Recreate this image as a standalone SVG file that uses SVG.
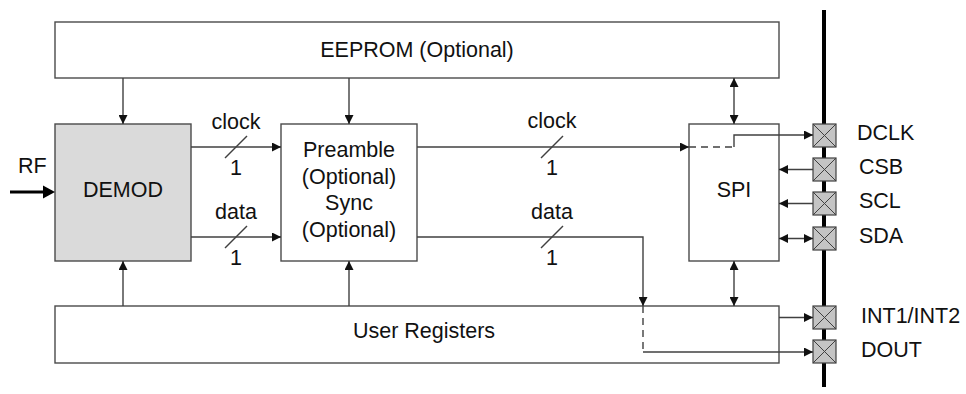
<svg xmlns="http://www.w3.org/2000/svg" width="966" height="394" viewBox="0 0 966 394">
<defs>
<style>
text{font-family:"Liberation Sans",Arial,sans-serif;font-size:21.5px;fill:#111;}
.c{text-anchor:middle;}
.box{fill:#fff;stroke:#4a4a4a;stroke-width:1.4;}
.ln{fill:none;stroke:#404040;stroke-width:1.4;}
.dash{fill:none;stroke:#404040;stroke-width:1.4;stroke-dasharray:7,5;}
.pad{fill:#c4c4c4;stroke:#404040;stroke-width:1.2;}
.px{stroke:#404040;stroke-width:1;}
</style>
<marker id="ah" viewBox="0 0 10 10" refX="10" refY="5" markerUnits="userSpaceOnUse" markerWidth="9" markerHeight="9" orient="auto-start-reverse">
<path d="M0,0 L10,5 L0,10 z" fill="#111"/>
</marker>
</defs>

<g id="eeprom">
<rect class="box" x="55" y="22" width="724" height="56"/>
<text class="c" x="417" y="57">EEPROM (Optional)</text>
</g>
<g id="demod">
<rect class="box" x="55" y="124" width="136" height="137" style="fill:#dadada"/>
<text class="c" x="123" y="197">DEMOD</text>
</g>
<g id="preamble">
<rect class="box" x="281" y="124" width="136" height="137"/>
<text class="c" x="349" y="157">Preamble</text>
<text class="c" x="349" y="184">(Optional)</text>
<text class="c" x="349" y="210">Sync</text>
<text class="c" x="349" y="237">(Optional)</text>
</g>
<g id="spi">
<rect class="box" x="689" y="124" width="90" height="137"/>
<text class="c" x="734" y="197">SPI</text>
</g>
<g id="userregs">
<rect class="box" x="55" y="306" width="724" height="57"/>
<text class="c" x="424" y="338">User Registers</text>
</g>

<g id="bus">
<line x1="824" y1="10" x2="824" y2="387" stroke="#000" stroke-width="4"/>
</g>
<g id="pads">
<g id="pad-dclk"><rect class="pad" x="813" y="124" width="23" height="23"/><path class="px" d="M813,124 L836,147 M836,124 L813,147"/><text x="857" y="140">DCLK</text></g>
<g id="pad-csb"><rect class="pad" x="813" y="158" width="23" height="23"/><path class="px" d="M813,158 L836,181 M836,158 L813,181"/><text x="859" y="174">CSB</text></g>
<g id="pad-scl"><rect class="pad" x="813" y="192" width="23" height="23"/><path class="px" d="M813,192 L836,215 M836,192 L813,215"/><text x="859" y="208">SCL</text></g>
<g id="pad-sda"><rect class="pad" x="813" y="227" width="23" height="23"/><path class="px" d="M813,227 L836,250 M836,227 L813,250"/><text x="859" y="243">SDA</text></g>
<g id="pad-int"><rect class="pad" x="813" y="306" width="23" height="23"/><path class="px" d="M813,306 L836,329 M836,306 L813,329"/><text x="861" y="323">INT1/INT2</text></g>
<g id="pad-dout"><rect class="pad" x="813" y="340" width="23" height="23"/><path class="px" d="M813,340 L836,363 M836,340 L813,363"/><text x="861" y="357">DOUT</text></g>
</g>

<g id="connectors">
<line class="ln" x1="123" y1="78" x2="123" y2="124" marker-end="url(#ah)"/>
<line class="ln" x1="349" y1="78" x2="349" y2="124" marker-end="url(#ah)"/>
<line class="ln" x1="734" y1="78" x2="734" y2="124" marker-start="url(#ah)" marker-end="url(#ah)"/>
<line class="ln" x1="123" y1="306" x2="123" y2="261" marker-end="url(#ah)"/>
<line class="ln" x1="349" y1="306" x2="349" y2="261" marker-end="url(#ah)"/>
<line class="ln" x1="734" y1="261" x2="734" y2="306" marker-start="url(#ah)" marker-end="url(#ah)"/>
<line x1="10" y1="192" x2="45" y2="192" stroke="#000" stroke-width="3"/>
<path d="M43,185.5 L55,192 L43,198.5 z" fill="#000"/>
<text x="18" y="173">RF</text>
<line class="ln" x1="191" y1="147" x2="281" y2="147" marker-end="url(#ah)"/>
<line class="ln" x1="225" y1="158" x2="247" y2="136"/>
<text class="c" x="236" y="129">clock</text>
<text class="c" x="236" y="175">1</text>
<line class="ln" x1="191" y1="237" x2="281" y2="237" marker-end="url(#ah)"/>
<line class="ln" x1="225" y1="248" x2="247" y2="226"/>
<text class="c" x="236" y="219">data</text>
<text class="c" x="236" y="265">1</text>
<line class="ln" x1="417" y1="147" x2="689" y2="147" marker-end="url(#ah)"/>
<line class="ln" x1="541" y1="158" x2="563" y2="136"/>
<text class="c" x="552" y="128">clock</text>
<text class="c" x="552" y="175">1</text>
<path class="dash" d="M689,147 L734,147"/>
<path class="ln" d="M734,147 L734,135 L813,135" marker-end="url(#ah)"/>
<path class="ln" d="M417,237 L643,237 L643,306" marker-end="url(#ah)"/>
<line class="ln" x1="541" y1="248" x2="563" y2="226"/>
<text class="c" x="552" y="219">data</text>
<text class="c" x="552" y="265">1</text>
<path class="dash" d="M643,306 L643,352"/>
<path class="ln" d="M643,352 L813,352" marker-end="url(#ah)"/>
<line class="ln" x1="813" y1="169.5" x2="779" y2="169.5" marker-end="url(#ah)"/>
<line class="ln" x1="813" y1="203.5" x2="779" y2="203.5" marker-end="url(#ah)"/>
<line class="ln" x1="779" y1="238.5" x2="813" y2="238.5" marker-start="url(#ah)" marker-end="url(#ah)"/>
<line class="ln" x1="779" y1="317.5" x2="813" y2="317.5" marker-end="url(#ah)"/>
</g>
</svg>
